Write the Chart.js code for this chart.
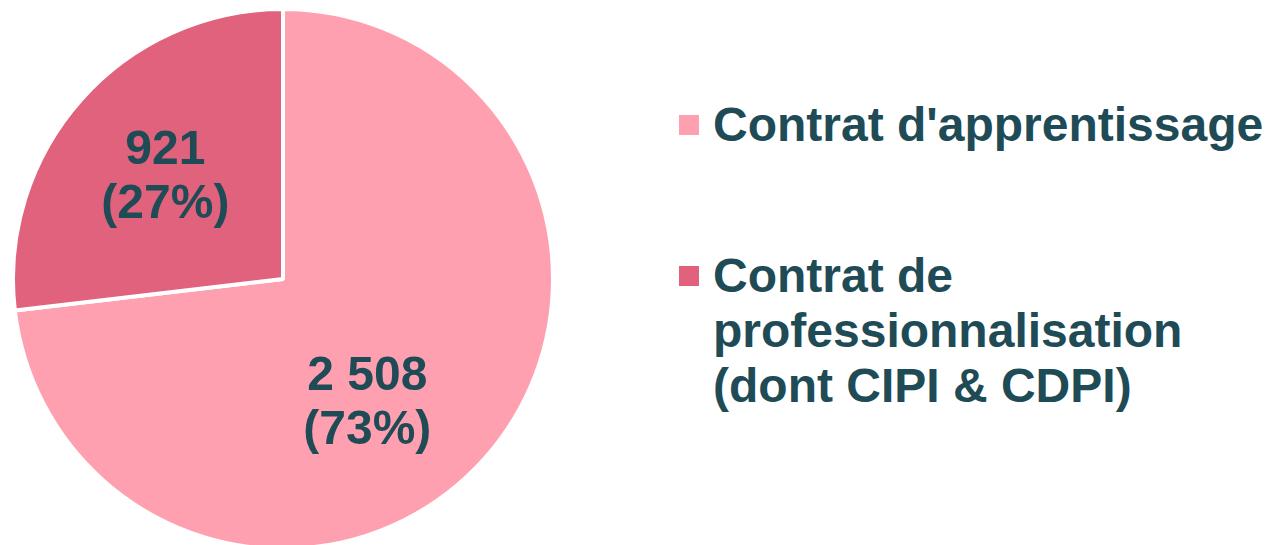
<!DOCTYPE html>
<html lang="fr">
<head>
    <meta charset="UTF-8">
    <title>Contrats en alternance</title>
    <style>
        body {
            margin: 0;
            padding: 0;
            width: 1269px;
            height: 545px;
            overflow: hidden;
            background: #ffffff;
            font-family: 'Liberation Sans', Arial, sans-serif;
        }
        .pie-box {
            position: absolute;
            left: 11px;
            top: 7px;
            width: 544px;
            height: 544px;
        }
        .legend {
            position: absolute;
            left: 679px;
            top: 97px;
            width: 590px;
        }
        .legend-item {
            display: flex;
            align-items: flex-start;
            margin-bottom: 96px;
        }
        .legend-box {
            width: 20px;
            height: 20px;
            margin-top: 18px;
            margin-right: 14px;
            flex: none;
        }
        .legend-text {
            width: 556px;
            font-size: 48px;
            line-height: 55px;
            font-weight: bold;
            color: #1f4b56;
        }
    </style>
</head>
<body>

    <div class="pie-box">
        <canvas id="pie"></canvas>
    </div>
    <div class="legend" id="legend"></div>

    <script src="https://cdn.jsdelivr.net/npm/chart.js"></script>
    <script>
        const categories = ["Contrat d'apprentissage", "Contrat de professionnalisation (dont CIPI & CDPI)"];
        const values = [2508, 921];
        const valueLabels = ["2 508", "921"];
        const percentLabels = ["(73%)", "(27%)"];
        const colors = ["#ffa0b0", "#e0627c"];

        // placement of the slice labels (polar, relative to the slice middle)
        const labelRadius = [0.545, 0.583];
        const labelAngleShift = [13.4, 0];
        const textColor = "#1f4b56";

        // html legend
        let legend = document.getElementById("legend");
        categories.forEach(function (name, i) {
            let item = document.createElement("div");
            item.className = "legend-item";
            let box = document.createElement("div");
            box.className = "legend-box";
            box.style.background = colors[i];
            let txt = document.createElement("div");
            txt.className = "legend-text";
            txt.textContent = name;
            item.appendChild(box);
            item.appendChild(txt);
            legend.appendChild(item);
        });

        const sliceLabels = {
            id: "sliceLabels",
            afterDatasetsDraw(chart) {
                let ctx = chart.ctx;
                let arcs = chart.getDatasetMeta(0).data;
                ctx.save();
                ctx.fillStyle = textColor;
                ctx.font = "bold 48px 'Liberation Sans', Arial, sans-serif";
                ctx.textAlign = "center";
                ctx.textBaseline = "alphabetic";
                arcs.forEach(function (arc, i) {
                    let p = arc.getProps(["x", "y", "startAngle", "endAngle", "outerRadius"], true);
                    let mid = (p.startAngle + p.endAngle) / 2 + labelAngleShift[i] * Math.PI / 180;
                    let d = p.outerRadius * labelRadius[i];
                    let cx = p.x + Math.cos(mid) * d;
                    let cy = p.y + Math.sin(mid) * d;
                    ctx.fillText(valueLabels[i], cx, cy - 27 + 17);
                    ctx.fillText(percentLabels[i], cx, cy + 27 + 17);
                });
                ctx.restore();
            }
        };

        new Chart(document.getElementById("pie"), {
            type: "pie",
            data: {
                labels: categories,
                datasets: [{
                    data: values,
                    backgroundColor: colors,
                    borderColor: "#ffffff",
                    borderWidth: 4
                }]
            },
            options: {
                responsive: true,
                maintainAspectRatio: false,
                animation: false,
                layout: { padding: 0 },
                plugins: {
                    legend: { display: false },
                    tooltip: { enabled: false }
                }
            },
            plugins: [sliceLabels]
        });
    </script>

</body>
</html>
